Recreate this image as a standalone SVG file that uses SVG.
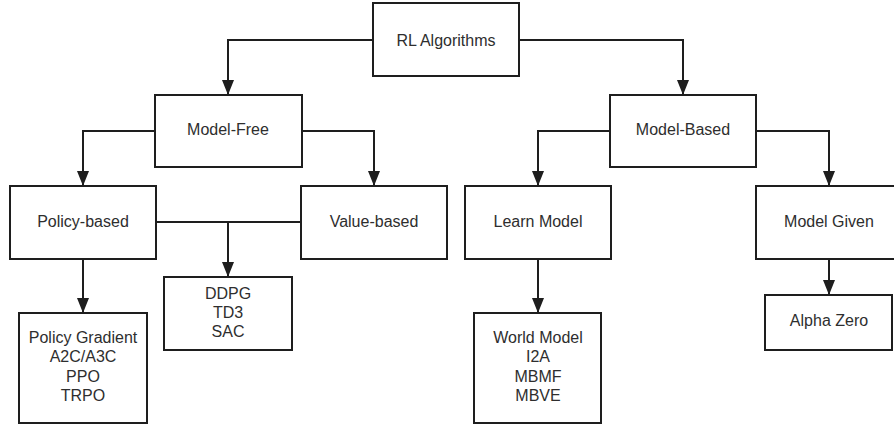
<svg xmlns="http://www.w3.org/2000/svg" width="894" height="426" viewBox="0 0 894 426">
  <style>
    .box { fill: #ffffff; stroke: #1e1e1e; stroke-width: 2; }
    .lbl { font-family: "Liberation Sans", Arial, sans-serif; font-size: 16px; fill: #2e2e2e; text-anchor: middle; }
    .edge { fill: none; stroke: #1e1e1e; stroke-width: 2; }
  </style>
  <defs>
    <marker id="tri" markerUnits="userSpaceOnUse" markerWidth="16" markerHeight="12" viewBox="0 0 16 12" refX="15" refY="6" orient="auto">
      <path d="M0,0 L15,6 L0,12 Z" fill="#1e1e1e"/>
    </marker>
  </defs>
  <rect width="894" height="426" fill="#ffffff"/>

  <g id="connectors">
    <path class="edge" d="M373,40 H228 V95" marker-end="url(#tri)"/>
    <path class="edge" d="M519,40 H683 V95" marker-end="url(#tri)"/>
    <path class="edge" d="M155,131 H83 V186" marker-end="url(#tri)"/>
    <path class="edge" d="M302,131 H374 V186" marker-end="url(#tri)"/>
    <path class="edge" d="M610,131 H538 V186" marker-end="url(#tri)"/>
    <path class="edge" d="M756,131 H829 V186" marker-end="url(#tri)"/>
    <path class="edge" d="M156,222 H301"/>
    <path class="edge" d="M228,222 V277" marker-end="url(#tri)"/>
    <path class="edge" d="M83,259 V313" marker-end="url(#tri)"/>
    <path class="edge" d="M538,259 V313" marker-end="url(#tri)"/>
    <path class="edge" d="M829,259 V295" marker-end="url(#tri)"/>
  </g>

  <g id="rl-algorithms">
    <rect class="box" x="373" y="3" width="146" height="73"/>
    <text class="lbl" x="446" y="46">RL Algorithms</text>
  </g>
  <g id="model-free">
    <rect class="box" x="155" y="95" width="147" height="72"/>
    <text class="lbl" x="228" y="135">Model-Free</text>
  </g>
  <g id="model-based">
    <rect class="box" x="610" y="95" width="146" height="72"/>
    <text class="lbl" x="683" y="135">Model-Based</text>
  </g>
  <g id="policy-based">
    <rect class="box" x="10" y="186" width="146" height="73"/>
    <text class="lbl" x="83" y="227">Policy-based</text>
  </g>
  <g id="value-based">
    <rect class="box" x="301" y="186" width="146" height="73"/>
    <text class="lbl" x="374" y="227">Value-based</text>
  </g>
  <g id="learn-model">
    <rect class="box" x="465" y="186" width="146" height="73"/>
    <text class="lbl" x="538" y="227">Learn Model</text>
  </g>
  <g id="model-given">
    <rect class="box" x="756" y="186" width="146" height="73"/>
    <text class="lbl" x="829" y="227">Model Given</text>
  </g>
  <g id="actor-critic">
    <rect class="box" x="164" y="277" width="128" height="73"/>
    <text class="lbl" x="228" y="299">DDPG</text>
    <text class="lbl" x="228" y="318">TD3</text>
    <text class="lbl" x="228" y="337">SAC</text>
  </g>
  <g id="policy-methods">
    <rect class="box" x="19" y="313" width="128" height="110"/>
    <text class="lbl" x="83" y="343">Policy Gradient</text>
    <text class="lbl" x="83" y="362">A2C/A3C</text>
    <text class="lbl" x="83" y="382">PPO</text>
    <text class="lbl" x="83" y="401">TRPO</text>
  </g>
  <g id="learned-model-methods">
    <rect class="box" x="474" y="313" width="127" height="110"/>
    <text class="lbl" x="538" y="343">World Model</text>
    <text class="lbl" x="538" y="362">I2A</text>
    <text class="lbl" x="538" y="382">MBMF</text>
    <text class="lbl" x="538" y="401">MBVE</text>
  </g>
  <g id="alpha-zero">
    <rect class="box" x="765" y="295" width="127" height="55"/>
    <text class="lbl" x="829" y="326">Alpha Zero</text>
  </g>
</svg>
